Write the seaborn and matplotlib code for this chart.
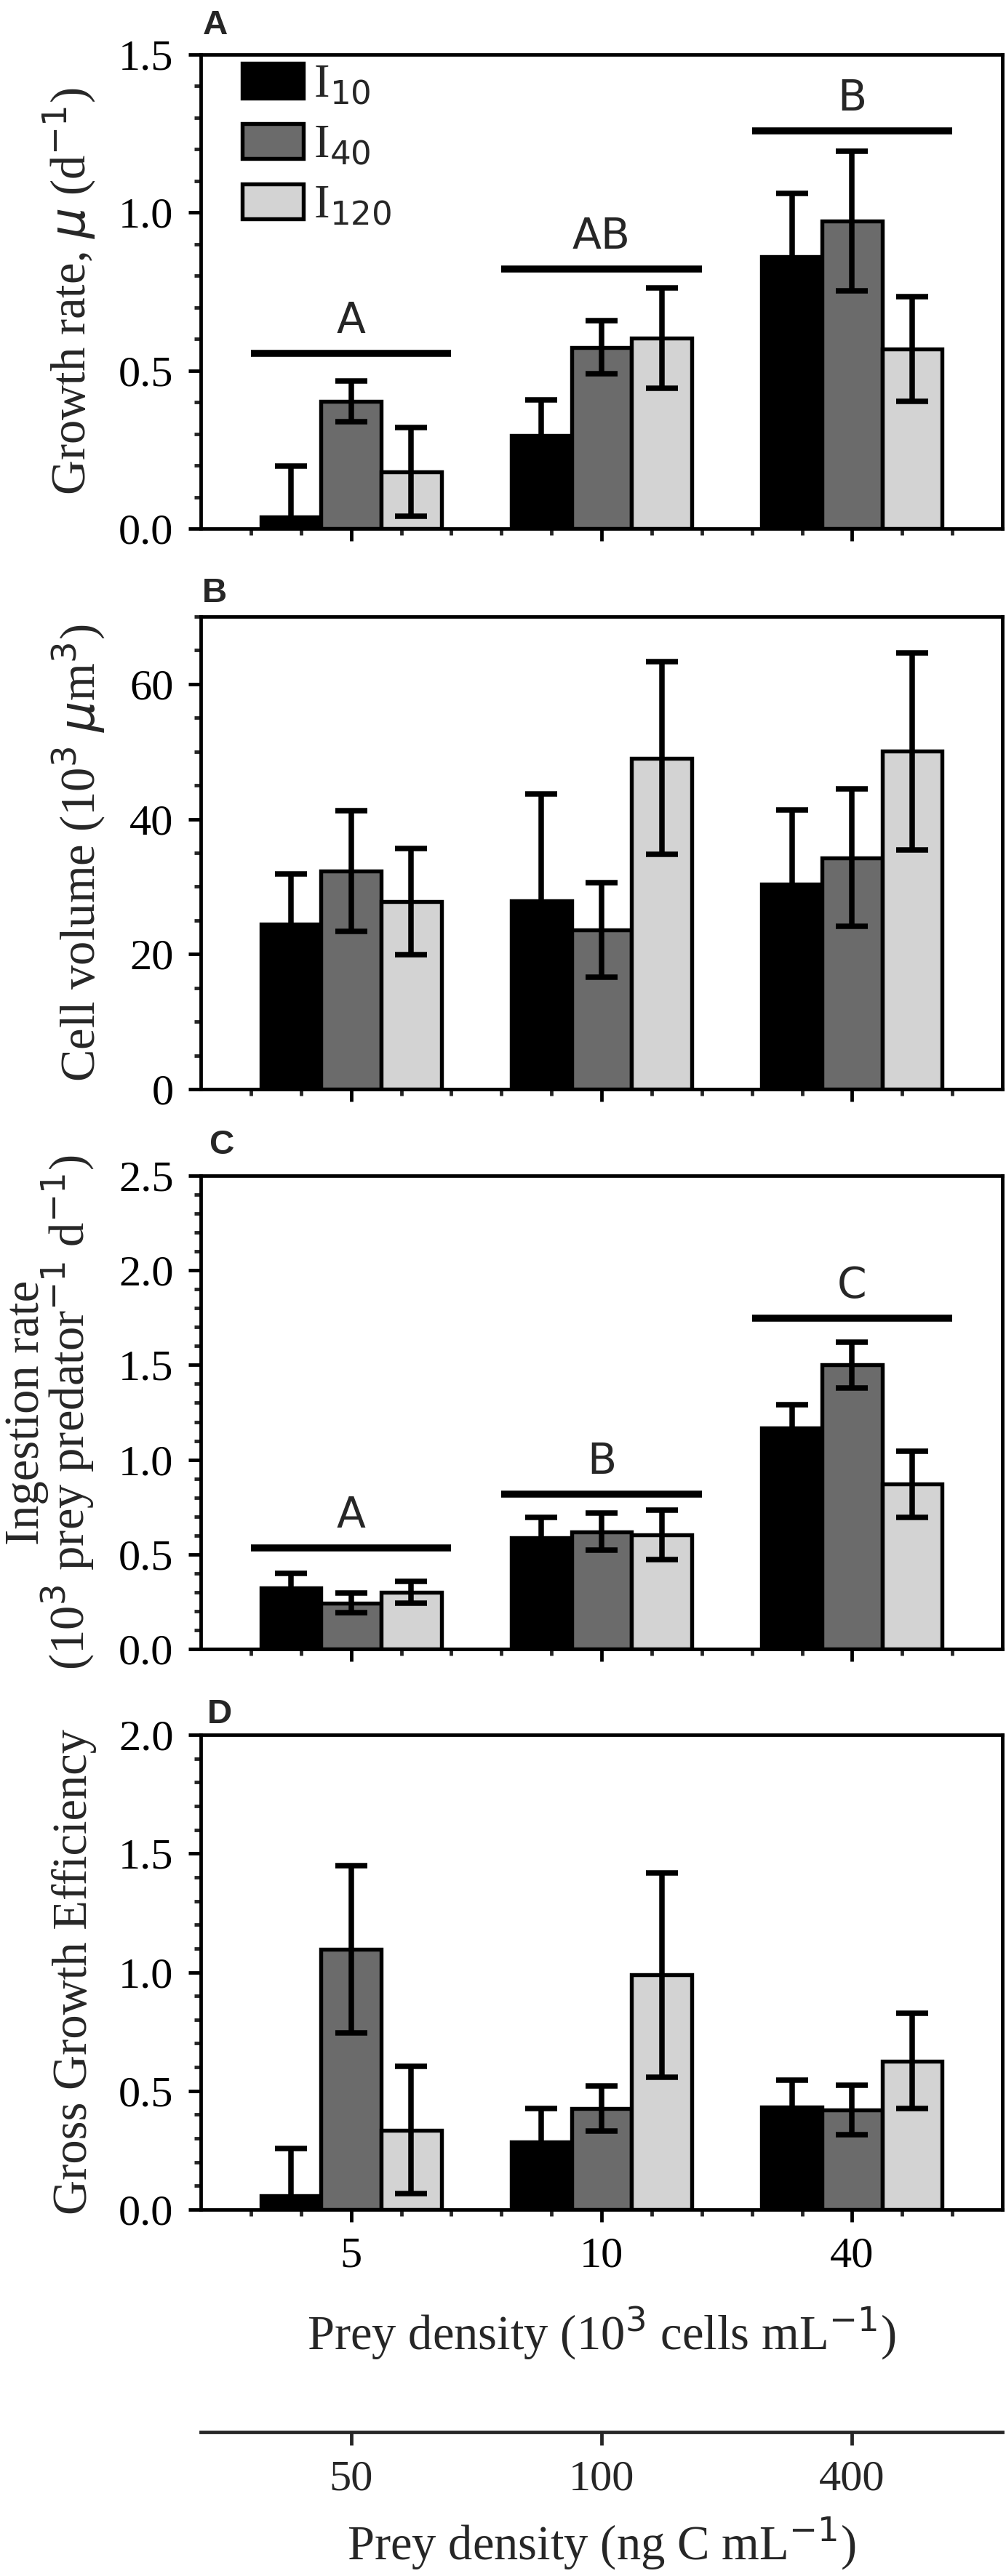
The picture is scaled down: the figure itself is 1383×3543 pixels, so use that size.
import matplotlib
matplotlib.use("Agg")
import matplotlib.pyplot as plt
import seaborn as sns
import pandas as pd
import numpy as np
from matplotlib.ticker import MultipleLocator, FixedLocator, NullLocator

sns.set_style("ticks")
plt.rcParams["font.family"] = ["Liberation Serif", "DejaVu Serif"]
plt.rcParams["mathtext.fontset"] = "dejavusans"

# ---------------- data ----------------
densities = ["5", "10", "40"]            # 10^3 cells mL^-1
carbon = ["50", "100", "400"]            # ng C mL^-1
light_levels = ["I$_{10}$", "I$_{40}$", "I$_{120}$"]
bar_colors = ["#000000", "#6b6b6b", "#d3d3d3"]

growth_I10 = [0.037, 0.294, 0.861]
growth_I40 = [0.402, 0.574, 0.973]
growth_I120 = [0.179, 0.603, 0.568]
growth_err_I10 = [0.16, 0.114, 0.20]
growth_err_I40 = [0.064, 0.085, 0.221]
growth_err_I120 = [0.14, 0.158, 0.165]
growth_letters = ["A", "AB", "B"]
growth_letter_y = [0.555, 0.821, 1.259]

volume_I10 = [24.4, 27.9, 30.4]
volume_I40 = [32.3, 23.6, 34.3]
volume_I120 = [27.8, 49.05, 50.05]
volume_err_I10 = [7.5, 15.8, 11.0]
volume_err_I40 = [8.9, 7.0, 10.2]
volume_err_I120 = [7.9, 14.3, 14.6]

ingest_I10 = [0.322, 0.587, 1.169]
ingest_I40 = [0.243, 0.62, 1.50]
ingest_I120 = [0.30, 0.603, 0.871]
ingest_err_I10 = [0.077, 0.108, 0.121]
ingest_err_I40 = [0.051, 0.099, 0.12]
ingest_err_I120 = [0.058, 0.131, 0.175]
ingest_letters = ["A", "B", "C"]
ingest_letter_y = [0.535, 0.817, 1.747]

gge_I10 = [0.058, 0.286, 0.432]
gge_I40 = [1.097, 0.426, 0.42]
gge_I120 = [0.335, 0.988, 0.626]
gge_err_I10 = [0.20, 0.139, 0.112]
gge_err_I40 = [0.352, 0.096, 0.104]
gge_err_I120 = [0.269, 0.43, 0.20]

ylabels = [
    r"Growth rate, $\mu$ (d$^{-1}$)",
    r"Cell volume (10$^{3}$ $\mu$m$^{3}$)",
    "Ingestion rate\n" + r"(10$^{3}$ prey predator$^{-1}$ d$^{-1}$)",
    "Gross Growth Efficiency",
]
panel_tags = ["A", "B", "C", "D"]
xlabel_main = r"Prey density (10$^{3}$ cells mL$^{-1}$)"
xlabel_carbon = r"Prey density (ng C mL$^{-1}$)"

panels = [
    ([growth_I10, growth_I40, growth_I120],
     [growth_err_I10, growth_err_I40, growth_err_I120],
     (0, 1.5), 0.5, 0.1, growth_letters, growth_letter_y),
    ([volume_I10, volume_I40, volume_I120],
     [volume_err_I10, volume_err_I40, volume_err_I120],
     (0, 70), 20, 5, None, None),
    ([ingest_I10, ingest_I40, ingest_I120],
     [ingest_err_I10, ingest_err_I40, ingest_err_I120],
     (0, 2.5), 0.5, 0.1, ingest_letters, ingest_letter_y),
    ([gge_I10, gge_I40, gge_I120],
     [gge_err_I10, gge_err_I40, gge_err_I120],
     (0, 2.0), 0.5, 0.1, None, None),
]

# ---------------- layout (pixels of a 1383 x 3543 canvas) ----------------
W, H = 1383, 3543
DPI = 300
fig = plt.figure(figsize=(W / DPI, H / DPI), dpi=DPI)
ax_left, ax_right = 276, 1378
ax_tops = [75, 848, 1617, 2386]
ax_bottoms = [727, 1498, 2268, 3039]
tag_pos = [(279, 47), (278, 828), (288, 1587), (285, 2370)]
ylabel_x = [-0.129, -0.117, -0.131, -0.130]
ylabel_spacing = [1.0, 1.0, 0.78, 1.0]

LW = 1.15
for i, (series, errs, ylim, major, minor, letters, letter_y) in enumerate(panels):
    ax = fig.add_axes([ax_left / W, 1 - ax_bottoms[i] / H,
                       (ax_right - ax_left) / W, (ax_bottoms[i] - ax_tops[i]) / H])
    rows = []
    for lvl, vals in zip(light_levels, series):
        for d, v in zip(densities, vals):
            rows.append({"density": d, "light": lvl, "value": v})
    df = pd.DataFrame(rows)
    sns.barplot(data=df, x="density", y="value", hue="light",
                order=densities, hue_order=light_levels, palette=bar_colors,
                width=0.72, edgecolor="black", linewidth=1.3, errorbar=None,
                saturation=1, legend=(i == 0), ax=ax, zorder=2)
    for cont, vals, ee in zip(ax.containers, series, errs):
        xs = [p.get_x() + p.get_width() / 2 for p in cont.patches]
        ax.errorbar(xs, vals, yerr=ee, fmt="none", ecolor="black",
                    elinewidth=1.8, capsize=5.2, capthick=1.8, zorder=3)
    if letters is not None:
        for j, (lt, ly) in enumerate(zip(letters, letter_y)):
            ax.plot([j - 0.4, j + 0.4], [ly, ly], color="black", lw=2.3,
                    solid_capstyle="butt", zorder=3)
            ax.annotate(lt, (j, ly), xytext=(0, 6.7), textcoords="offset points",
                        ha="center", va="baseline", fontsize=14,
                        family="DejaVu Sans")
    ax.set_xlim(-0.6, 2.6)
    ax.set_ylim(*ylim)
    ax.yaxis.set_major_locator(MultipleLocator(major))
    ax.yaxis.set_minor_locator(MultipleLocator(minor))
    ax.xaxis.set_major_locator(FixedLocator([0, 1, 2]))
    ax.xaxis.set_minor_locator(FixedLocator(np.arange(-0.4, 2.41, 0.2)))
    ax.tick_params(which="major", direction="out", length=4.0, width=LW,
                   labelsize=14.5, pad=5, colors="black")
    ax.tick_params(which="minor", direction="out", length=2.1, width=LW)
    for sp in ax.spines.values():
        sp.set_visible(True)
        sp.set_linewidth(LW)
        sp.set_color("black")
    ax.set_ylabel(ylabels[i], fontsize=16, linespacing=ylabel_spacing[i])
    ax.yaxis.set_label_coords(ylabel_x[i], 0.5)
    if i < 3:
        ax.set_xlabel("")
        ax.tick_params(axis="x", labelbottom=False)
    else:
        ax.set_xticks([0, 1, 2], labels=densities)
        ax.set_xlabel(xlabel_main, fontsize=16)
        ax.xaxis.set_label_coords(0.5, -0.199)
        ax.xaxis.label.set_va("top")
        sec = ax.secondary_xaxis(-(3344.5 - ax_bottoms[3]) / (ax_bottoms[3] - ax_tops[3]))
        sec.set_xticks([0, 1, 2], labels=carbon)
        sec.xaxis.set_minor_locator(NullLocator())
        sec.tick_params(direction="out", length=4.3, width=LW, labelsize=14.5, pad=5)
        sec.spines["bottom"].set_linewidth(LW)
        sec.set_xlabel(xlabel_carbon, fontsize=16, labelpad=5)
    if i == 0:
        sns.move_legend(ax, "upper left",
                        bbox_to_anchor=(57 / 1102, 1 - 12 / 652),
                        frameon=False, title=None, fontsize=15.5,
                        handlelength=1.3, handleheight=0.77,
                        handletextpad=0.22, labelspacing=0.35,
                        borderaxespad=0, borderpad=0)
    x_tag, y_tag = tag_pos[i]
    fig.text(x_tag / W, 1 - y_tag / H, panel_tags[i], family="Liberation Sans",
             fontweight="bold", fontsize=11.4, color="#262626",
             ha="left", va="baseline")

fig.savefig("out.png", dpi=DPI)
